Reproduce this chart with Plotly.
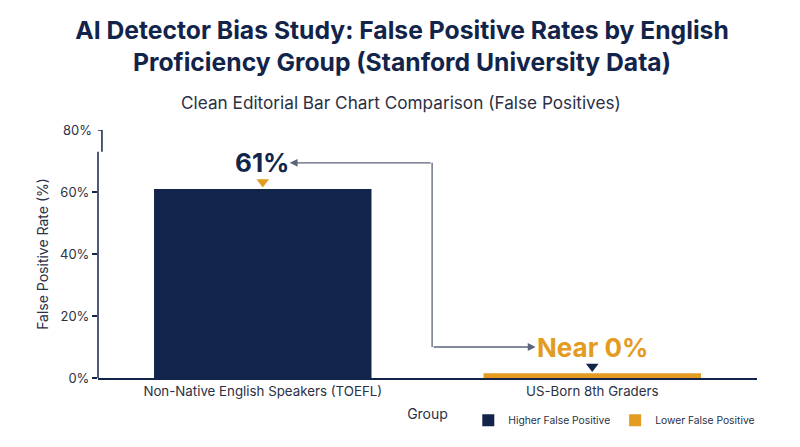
import plotly.graph_objects as go

# ---- data ----
categories = ["Non-Native English Speakers (TOEFL)", "US-Born 8th Graders"]
values = [61, 1.5]
series_names = ["Higher False Positive", "Lower False Positive"]
value_labels = ["61%", "Near 0%"]
y_ticks = [0, 20, 40, 60]
y_tick_text = ["0%", "20%", "40%", "60%"]
y_top = 80

NAVY = "#13244B"
ORANGE = "#E39B22"
TEXT = "#2B3045"
ARROW = "#5B6479"
FONT = "Inter"

PLOT_W = 659

fig = go.Figure()
bar_colors = [NAVY, ORANGE]
for cat, val, name, col in zip(categories, values, series_names, bar_colors):
    fig.add_trace(go.Bar(x=[cat], y=[val], name=name, marker=dict(color=col, line=dict(width=0)),
                         width=0.66))

# value labels and pointer triangles
label_colors = [NAVY, ORANGE]
tri_colors = [ORANGE, NAVY]
for cat, val, lab, lc, tc in zip(categories, values, value_labels, label_colors, tri_colors):
    fig.add_annotation(x=cat, y=val + 8.4, text=f"<b>{lab}</b>", showarrow=False,
                       font=dict(family=FONT, size=26, color=lc), xref="x", yref="y")
    fig.add_trace(go.Scatter(x=[cat], y=[val + 2.2], mode="markers", showlegend=False,
                             marker=dict(symbol="triangle-down", size=11, color=tc),
                             hoverinfo="skip"))

# connector between the two labels
y1 = values[0] + 8.4
y2 = values[1] + 8.5
xc = 0.507
fig.add_shape(type="line", xref="paper", yref="y", x0=xc, x1=xc, y0=y1, y1=y2,
              line=dict(color=ARROW, width=1.3))
fig.add_annotation(xref="paper", yref="y", x=0.291, y=y1, ax=(xc - 0.291) * PLOT_W, ay=0,
                   text="", showarrow=True, arrowhead=2, arrowsize=1.2, arrowwidth=1.3,
                   arrowcolor=ARROW)
fig.add_annotation(xref="paper", yref="y", x=0.664, y=y2, ax=(xc - 0.664) * PLOT_W, ay=0,
                   text="", showarrow=True, arrowhead=2, arrowsize=1.2, arrowwidth=1.3,
                   arrowcolor=ARROW)

# broken y-axis line
fig.add_shape(type="line", xref="paper", yref="y", x0=0, x1=0, y0=0, y1=73,
              line=dict(color=NAVY, width=1.5))
fig.add_shape(type="line", xref="paper", yref="y", x0=0.006, x1=0.006, y0=73, y1=y_top,
              line=dict(color=NAVY, width=1.5))
fig.add_shape(type="line", xref="paper", yref="y", x0=0, x1=0.006, y0=y_top, y1=y_top,
              line=dict(color=NAVY, width=1.5))
fig.add_annotation(xref="paper", yref="y", x=0, y=y_top, xanchor="right", xshift=-4,
                   text=f"{y_top}%", showarrow=False, font=dict(family=FONT, size=13, color=TEXT))

# subtitle
fig.add_annotation(xref="paper", yref="paper", x=0.46, y=1, yshift=28, xanchor="center",
                   yanchor="middle",
                   text="Clean Editorial Bar Chart Comparison (False Positives)", showarrow=False,
                   font=dict(family=FONT, size=17.2, color=TEXT))

fig.update_layout(
    width=800, height=447,
    paper_bgcolor="white", plot_bgcolor="white",
    margin=dict(l=90, r=51, t=122, b=77),
    barmode="overlay",
    title=dict(text="<b>AI Detector Bias Study: False Positive Rates by English<br>Proficiency Group (Stanford University Data)</b>",
               x=0.4925, xanchor="center", xref="container", y=0.931, yanchor="middle",
               font=dict(family=FONT, size=24.7, color=NAVY)),
    font=dict(family=FONT, size=13, color=TEXT),
    showlegend=True,
    legend=dict(orientation="h", x=1.005, xanchor="right", y=-0.17, yanchor="middle",
                font=dict(family=FONT, size=10.3, color=TEXT), itemwidth=30,
                bgcolor="rgba(0,0,0,0)"),
    xaxis=dict(title=dict(text="Group", font=dict(family=FONT, size=14, color=TEXT), standoff=11),
               showline=True, linecolor=NAVY, linewidth=1.5, ticks="", showgrid=False,
               tickfont=dict(family=FONT, size=13.3, color=TEXT)),
    yaxis=dict(title=dict(text="False Positive Rate (%)", font=dict(family=FONT, size=14, color=TEXT), standoff=8),
               range=[0, y_top], tickvals=y_ticks, ticktext=y_tick_text, ticks="outside",
               ticklen=5, tickcolor=NAVY, tickwidth=1.5, showline=False, showgrid=False,
               zeroline=False, tickfont=dict(family=FONT, size=13, color=TEXT)),
)

fig.write_html("out.html")
